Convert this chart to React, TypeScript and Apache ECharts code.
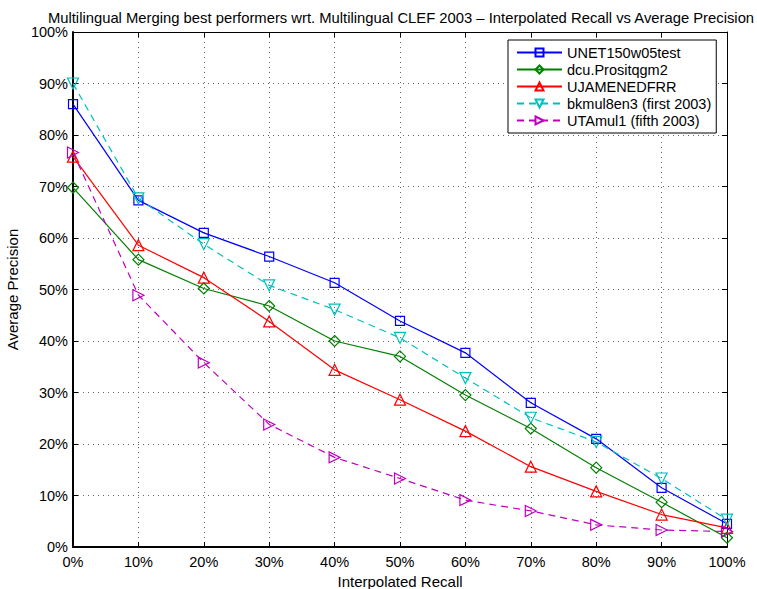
import React, { useEffect, useRef } from "react";
import * as echarts from "echarts";

// Recall levels (percent) shared by every run
const recall = [0, 10, 20, 30, 40, 50, 60, 70, 80, 90, 100];

// Average precision (percent) at each interpolated recall level
const unet150w05test = [86.0, 67.3, 61.0, 56.4, 51.3, 43.9, 37.7, 28.0, 21.0, 11.5, 4.5];
const dcuPrositqgm2 = [69.8, 55.8, 50.2, 46.8, 40.0, 37.0, 29.5, 23.0, 15.4, 8.7, 1.8];
const ujamenedfrr = [75.8, 58.6, 52.3, 43.8, 34.4, 28.6, 22.5, 15.6, 10.8, 6.3, 3.7];
const bkmul8en3 = [90.0, 67.7, 58.8, 50.8, 46.1, 40.6, 32.8, 25.1, 20.4, 13.3, 5.3];
const utamul1 = [76.6, 48.9, 35.8, 23.8, 17.4, 13.3, 9.1, 7.0, 4.3, 3.3, 3.0];

const FONT = "'Liberation Sans', Arial, Helvetica, sans-serif";

const pair = (vals: number[]) => vals.map((v, i) => [recall[i], v]);

const SQUARE = "path://M0,0 L10,0 L10,10 L0,10 Z";
const DIAMOND = "path://M5,0 L10,5 L5,10 L0,5 Z";
const TRI_UP = "path://M5,0 L10,10 L0,10 Z";
const TRI_DOWN = "path://M0,0 L10,0 L5,10 Z";
const TRI_RIGHT = "path://M0,0 L10,5 L0,10 Z";

function makeSeries(
  name: string,
  vals: number[],
  color: string,
  symbol: string,
  size: number,
  dashed: boolean
) {
  return {
    name,
    type: "line",
    data: pair(vals),
    symbol,
    symbolSize: size,
    showSymbol: true,
    lineStyle: { color, width: 1.2, type: dashed ? [7, 5] : "solid" },
    itemStyle: { color: "rgba(255,255,255,0)", borderColor: color, borderWidth: 1.2 },
    emphasis: { disabled: true },
  };
}

export default function App() {
  const ref = useRef<HTMLDivElement>(null);

  useEffect(() => {
    if (!ref.current) return;
    const chart = echarts.init(ref.current, null, { renderer: "svg" });

    const axisLabel = { fontFamily: FONT, fontSize: 14.5, color: "#000" };

    chart.setOption({
      animation: false,
      backgroundColor: "#fff",
      title: {
        text: "Multilingual Merging best performers wrt. Multilingual CLEF 2003 \u2013 Interpolated Recall vs Average Precision",
        left: 396,
        textAlign: "center",
        top: 5,
        textStyle: { fontFamily: FONT, fontSize: 14.8, fontWeight: "normal", color: "#000" },
      },
      legend: {
        orient: "vertical",
        left: 508,
        top: 40,
        padding: [5, 5, 5, 8],
        itemGap: 2,
        itemWidth: 45,
        itemHeight: 10,
        backgroundColor: "#fff",
        borderColor: "#000",
        borderWidth: 1,
        borderRadius: 0,
        textStyle: { fontFamily: FONT, fontSize: 14.5, color: "#000", lineHeight: 15 },
        data: [
          "UNET150w05test",
          "dcu.Prositqgm2",
          "UJAMENEDFRR",
          "bkmul8en3 (first 2003)",
          "UTAmul1 (fifth 2003)",
        ],
      },
      grid: {
        left: 73,
        right: 30,
        top: 32,
        bottom: 42,
        containLabel: false,
        outerBoundsMode: "none",
      },
      xAxis: [
        {
          type: "value",
          min: 0,
          max: 100,
          interval: 10,
          name: "Interpolated Recall",
          nameLocation: "middle",
          nameGap: 26,
          nameTextStyle: { fontFamily: FONT, fontSize: 15, color: "#000" },
          axisLine: { show: true, onZero: false, lineStyle: { color: "#000", width: 2 } },
          axisTick: { show: true, inside: true, length: 5, lineStyle: { color: "#000" } },
          axisLabel: { ...axisLabel, formatter: "{value}%", margin: 7 },
          splitLine: { show: true, lineStyle: { color: "#666", width: 1, type: [1, 4] } },
        },
        {
          type: "value",
          position: "top",
          min: 0,
          max: 100,
          interval: 10,
          axisLine: { show: true, onZero: false, lineStyle: { color: "#000", width: 1 } },
          axisTick: { show: true, inside: true, length: 5, lineStyle: { color: "#000" } },
          axisLabel: { show: false },
          splitLine: { show: false },
        },
      ],
      yAxis: [
        {
          type: "value",
          min: 0,
          max: 100,
          interval: 10,
          name: "Average Precision",
          nameLocation: "middle",
          nameGap: 49,
          nameTextStyle: { fontFamily: FONT, fontSize: 15, color: "#000" },
          axisLine: { show: true, onZero: false, lineStyle: { color: "#000", width: 2 } },
          axisTick: { show: true, inside: true, length: 5, lineStyle: { color: "#000" } },
          axisLabel: { ...axisLabel, formatter: "{value}%", margin: 5 },
          splitLine: { show: true, lineStyle: { color: "#666", width: 1, type: [1, 4] } },
        },
        {
          type: "value",
          position: "right",
          min: 0,
          max: 100,
          interval: 10,
          axisLine: { show: true, onZero: false, lineStyle: { color: "#000", width: 1 } },
          axisTick: { show: true, inside: true, length: 5, lineStyle: { color: "#000" } },
          axisLabel: { show: false },
          splitLine: { show: false },
        },
      ],
      series: [
        makeSeries("UNET150w05test", unet150w05test, "#0000ff", SQUARE, 9, false),
        makeSeries("dcu.Prositqgm2", dcuPrositqgm2, "#008000", DIAMOND, 11, false),
        makeSeries("UJAMENEDFRR", ujamenedfrr, "#ff0000", TRI_UP, 11, false),
        makeSeries("bkmul8en3 (first 2003)", bkmul8en3, "#00bfbf", TRI_DOWN, 11, true),
        makeSeries("UTAmul1 (fifth 2003)", utamul1, "#bf00bf", TRI_RIGHT, 11, true),
      ],
    });

    return () => chart.dispose();
  }, []);

  return <div ref={ref} style={{ width: 757, height: 589, position: "absolute", left: 0, top: 0 }} />;
}
